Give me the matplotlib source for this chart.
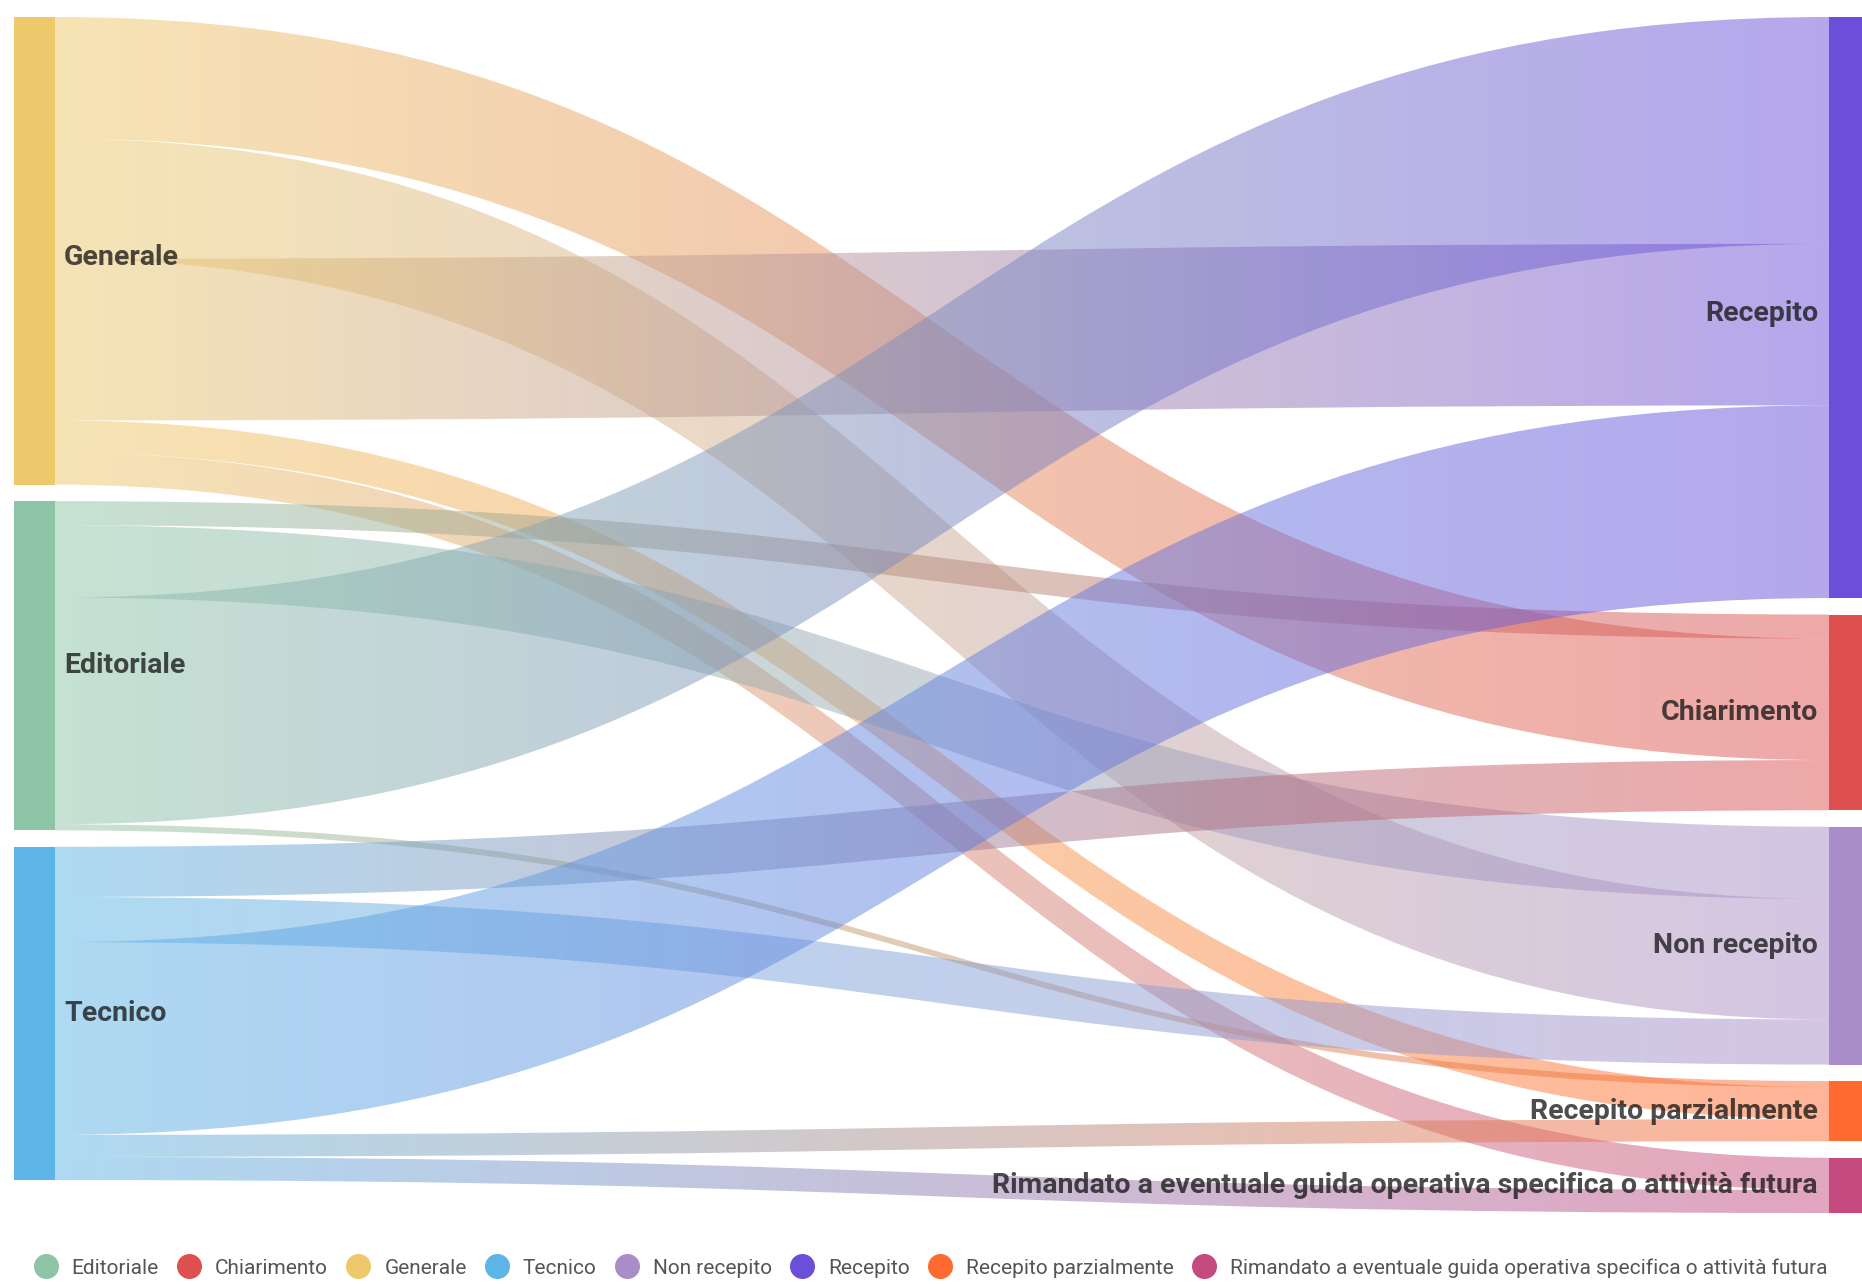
import numpy as np
import matplotlib
matplotlib.use('Agg')
import matplotlib.pyplot as plt
from matplotlib.path import Path
from matplotlib.patches import PathPatch
from matplotlib.lines import Line2D
from matplotlib.colors import to_rgb

plt.rcParams['font.family'] = ['Roboto', 'DejaVu Sans']

# nodes
sources = ['Generale', 'Editoriale', 'Tecnico']
targets = ['Recepito', 'Chiarimento', 'Non recepito', 'Recepito parzialmente',
           'Rimandato a eventuale guida operativa specifica o attività futura']

# flows (source, target, value)
link_src = ['Generale', 'Generale', 'Generale', 'Generale', 'Generale',
            'Editoriale', 'Editoriale', 'Editoriale', 'Editoriale',
            'Tecnico', 'Tecnico', 'Tecnico', 'Tecnico', 'Tecnico']
link_tgt = ['Chiarimento', 'Non recepito', 'Recepito', 'Recepito parzialmente', targets[4],
            'Chiarimento', 'Non recepito', 'Recepito', 'Recepito parzialmente',
            'Chiarimento', 'Non recepito', 'Recepito', 'Recepito parzialmente', targets[4]]
link_val = [121, 120, 161, 32, 32,
            24, 72, 226, 6,
            50, 45, 192, 22, 23]

colors = {
    'Editoriale': '#8dc4a6',
    'Chiarimento': '#de5050',
    'Generale': '#eec96b',
    'Tecnico': '#5db4e6',
    'Non recepito': '#a98dc8',
    'Recepito': '#6b4fda',
    'Recepito parzialmente': '#ff6a30',
    targets[4]: '#c54a7f',
}
legend_order = ['Editoriale', 'Chiarimento', 'Generale', 'Tecnico', 'Non recepito',
                'Recepito', 'Recepito parzialmente', targets[4]]

W, H = 1862, 1284
fig = plt.figure(figsize=(W / 100, H / 100), dpi=100)
ax = fig.add_axes([0, 0, 1, 1])

top, bottom, gap = 17, 1213, 16.5
xl0, xl1 = 14, 55
xr0, xr1 = 1829, 1869

src_tot = {s: sum(v for a, v in zip(link_src, link_val) if a == s) for s in sources}
tgt_tot = {t: sum(v for b, v in zip(link_tgt, link_val) if b == t) for t in targets}
scale = (bottom - top - gap * (len(targets) - 1)) / sum(tgt_tot.values())


def stack(names, totals):
    pos, y = {}, top
    for n in names:
        h = totals[n] * scale
        pos[n] = (y, y + h)
        y += h + gap
    return pos


src_pos = stack(sources, src_tot)
tgt_pos = stack(targets, tgt_tot)

# outflows sorted by target name, inflows by source name
out_y = {s: src_pos[s][0] for s in sources}
in_y = {t: tgt_pos[t][0] for t in targets}
order = sorted(range(len(link_val)), key=lambda i: (link_src[i], link_tgt[i]))
seg_src = {}
for i in order:
    s = link_src[i]
    h = link_val[i] * scale
    seg_src[i] = (out_y[s], out_y[s] + h)
    out_y[s] += h
order_in = sorted(range(len(link_val)), key=lambda i: (link_tgt[i], link_src[i]))
seg_tgt = {}
for i in order_in:
    t = link_tgt[i]
    h = link_val[i] * scale
    seg_tgt[i] = (in_y[t], in_y[t] + h)
    in_y[t] += h

xm = (xl1 + xr0) / 2
for i in range(len(link_val)):
    sy0, sy1 = seg_src[i]
    ty0, ty1 = seg_tgt[i]
    verts = [(xl1, sy0), (xm, sy0), (xm, ty0), (xr0, ty0),
             (xr0, ty1), (xm, ty1), (xm, sy1), (xl1, sy1), (xl1, sy0)]
    codes = [Path.MOVETO, Path.CURVE4, Path.CURVE4, Path.CURVE4,
             Path.LINETO, Path.CURVE4, Path.CURVE4, Path.CURVE4, Path.CLOSEPOLY]
    patch = PathPatch(Path(verts, codes), facecolor='none', edgecolor='none')
    ax.add_patch(patch)
    c0 = np.array(to_rgb(colors[link_src[i]]))
    c1 = np.array(to_rgb(colors[link_tgt[i]]))
    t = np.linspace(0, 1, 256)[:, None]
    grad = np.ones((1, 256, 4))
    grad[0, :, :3] = c0 * (1 - t) + c1 * t
    grad[0, :, 3] = 0.5
    im = ax.imshow(grad, extent=(xl1, xr0, min(sy0, ty0) - 2, max(sy1, ty1) + 2),
                   aspect='auto', interpolation='bilinear', zorder=1)
    im.set_clip_path(patch)

label_dy = {'Generale': 7, 'Recepito': 6}
for s in sources:
    y0, y1 = src_pos[s]
    ax.bar(xl0, y1 - y0, bottom=y0, width=xl1 - xl0, align='edge',
           color=colors[s], zorder=3)
    ax.text(64, (y0 + y1) / 2 + label_dy.get(s, 0), s, ha='left', va='center',
            fontsize=20.5, fontweight='bold', color='#111111', alpha=0.75, zorder=4)
for tg in targets:
    y0, y1 = tgt_pos[tg]
    ax.bar(xr0, y1 - y0, bottom=y0, width=xr1 - xr0, align='edge',
           color=colors[tg], zorder=3)
    ax.text(1818, (y0 + y1) / 2 + label_dy.get(tg, 0), tg, ha='right', va='center',
            fontsize=20.5, fontweight='bold', color='#111111', alpha=0.75, zorder=4)

ax.set_xlim(0, W)
ax.set_ylim(H, 0)
ax.axis('off')

handles = [Line2D([], [], marker='o', linestyle='', markersize=17,
                  color=colors[n], label=n) for n in legend_order]
fig.legend(handles=handles, loc='center', bbox_to_anchor=(0.5, 1 - 1268 / H),
           ncol=8, frameon=False, fontsize=15, handlelength=1.1,
           handletextpad=0.7, columnspacing=0.9, labelcolor='#555555')

fig.savefig('out.png', dpi=100)
